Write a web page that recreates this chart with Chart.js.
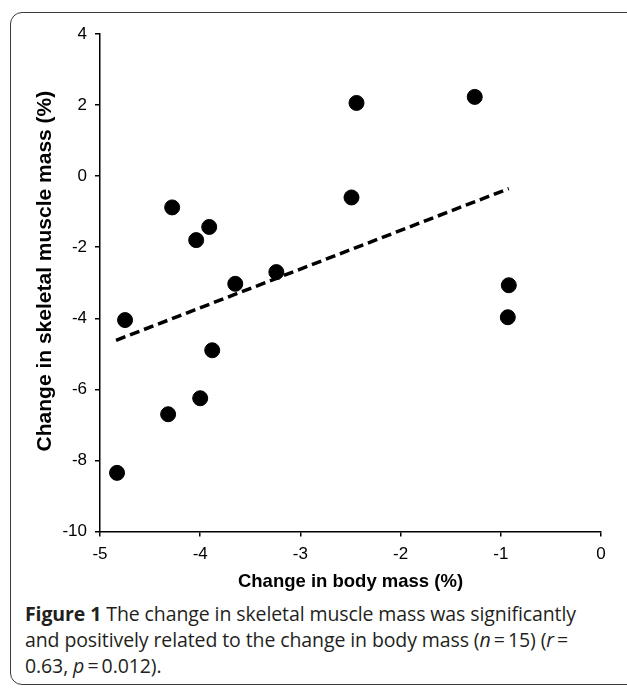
<!DOCTYPE html>
<html>
<head>
<meta charset="utf-8">
<script src="https://cdn.jsdelivr.net/npm/chart.js@4.4.1/dist/chart.umd.min.js"></script>
<style>
  html, body { margin: 0; padding: 0; background: #fff; }
  body { width: 627px; height: 688px; position: relative; overflow: hidden; }
  .figura {
    position: absolute; left: 10px; top: 12px; width: 640px; height: 673px;
    border: 1.5px solid #3a3a3a; border-radius: 12px; box-sizing: border-box;
  }
  #grafico { position: absolute; left: 0; top: 0; }
  .legenda {
    position: absolute; left: 25px; top: 601px; width: 600px;
    font-family: "Open Sans", sans-serif; font-size: 19.5px; line-height: 26.2px;
    color: #231f20; letter-spacing: -0.1px; white-space: nowrap;
  }
  .legenda b { font-weight: 700; }
</style>
</head>
<body>
<div class="figura"></div>
<canvas id="grafico" width="627" height="600"></canvas>
<div class="legenda">
  <div><b>Figure 1</b> The change in skeletal muscle mass was significantly</div>
  <div>and positively related to the change in body mass (<i>n</i>&thinsp;=&thinsp;15) (<i>r</i>&thinsp;=</div>
  <div>0.63, <i>p</i>&thinsp;=&thinsp;0.012).</div>
</div>
<script>
// Variação da massa corporal (%) e da massa muscular esquelética (%)
const massaCorporal = [-4.83, -4.75, -4.32, -4.28, -4.04, -4.00, -3.91, -3.88, -3.65, -3.24, -2.49, -2.44, -1.26, -0.92, -0.93];
const massaMuscular = [-8.35, -4.05, -6.70, -0.88, -1.80, -6.25, -1.43, -4.90, -3.03, -2.70, -0.60, 2.06, 2.23, -3.07, -3.97];

// Linha de tendência (extremos)
const tendenciaX = [-4.84, -0.92];
const tendenciaY = [-4.62, -0.35];

const ticksX = [-5, -4, -3, -2, -1, 0];
const ticksY = [-10, -8, -6, -4, -2, 0, 2, 4];

const pontos = massaCorporal.map((x, i) => ({ x: x, y: massaMuscular[i] }));
const linha = tendenciaX.map((x, i) => ({ x: x, y: tendenciaY[i] }));

const familia = 'Liberation Sans, Arial, sans-serif';
const fonteTick = { family: familia, size: 17 };

new Chart(document.getElementById('grafico'), {
  type: 'scatter',
  data: {
    datasets: [
      {
        data: pontos,
        backgroundColor: '#000',
        borderColor: '#000',
        pointRadius: 7.5,
        pointHoverRadius: 7.5
      },
      {
        type: 'line',
        data: linha,
        borderColor: '#000',
        borderWidth: 3.5,
        borderDash: [10, 5],
        pointRadius: 0,
        fill: false
      }
    ]
  },
  options: {
    responsive: false,
    animation: false,
    layout: { padding: { left: 0, top: 34, right: 26, bottom: 6.5 } },
    plugins: { legend: { display: false }, tooltip: { enabled: false } },
    scales: {
      x: {
        type: 'linear',
        min: -5, max: 0,
        afterBuildTicks: (s) => { s.ticks = ticksX.map(v => ({ value: v })); },
        afterFit: (s) => { s.height = 62; },
        grid: { drawOnChartArea: false, drawTicks: true, tickLength: 5, color: '#000', lineWidth: 1.5 },
        border: { display: true, color: '#000', width: 1.5 },
        ticks: { color: '#000', font: fonteTick, padding: 8, maxRotation: 0 },
        title: {
          display: true, text: 'Change in body mass (%)', color: '#000',
          font: { family: familia, size: 18.5, weight: 'bold' }, padding: { top: 0, bottom: 0 }
        }
      },
      y: {
        type: 'linear',
        min: -10, max: 4,
        afterBuildTicks: (s) => { s.ticks = ticksY.map(v => ({ value: v })); },
        afterFit: (s) => { s.width = 100; },
        grid: { drawOnChartArea: false, drawTicks: true, tickLength: 5, color: '#000', lineWidth: 1.5 },
        border: { display: true, color: '#000', width: 1.5 },
        ticks: { color: '#000', font: fonteTick, padding: 8 },
        title: {
          // espaços iniciais sobem o texto um pouco acima do centro do eixo
          display: true, text: '\u00a0\u00a0\u00a0\u00a0Change in skeletal muscle mass (%)', color: '#000',
          font: { family: familia, size: 21, weight: 'bold' }, padding: { top: 33, bottom: 0 }
        }
      }
    }
  }
});
</script>
</body>
</html>
